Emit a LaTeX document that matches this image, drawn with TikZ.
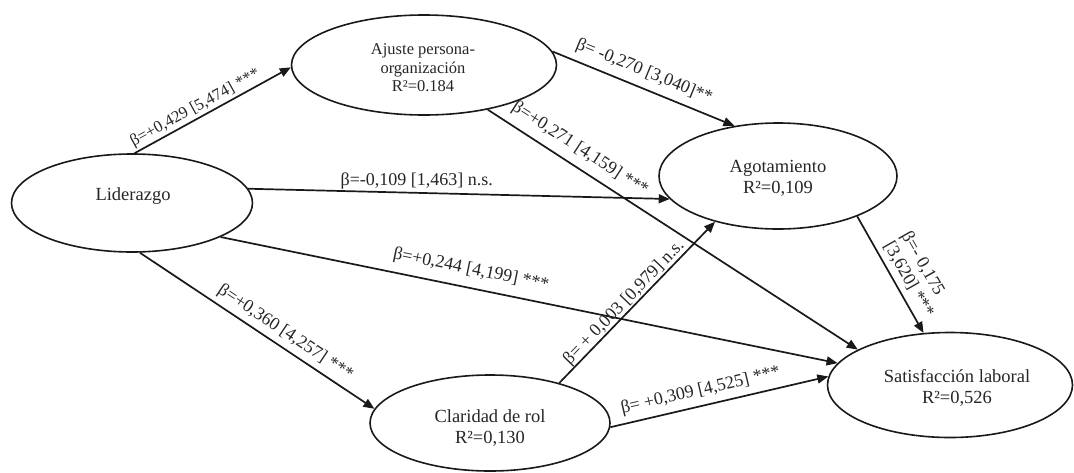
\documentclass[tikz,border=0pt]{standalone}
\usepackage{fontspec}
\setmainfont{Liberation Serif}
\usetikzlibrary{arrows.meta,shapes.geometric}
\begin{document}
\begin{tikzpicture}[x=1pt,y=-1pt,
  lv/.style={draw=black!90, line width=1.6pt, ellipse, inner sep=0pt},
  vt/.style={align=center, font=\fontsize{18.5}{21}\selectfont, text=black!85, inner sep=0pt},
  conn/.style={draw=black!90, line width=1.7pt, -{Triangle[length=11pt,width=9pt]}},
  labbase/.style={font=\fontsize{18}{20}\selectfont, text=black!85, inner sep=1pt},
  lab/.style={labbase, sloped}]
\useasboundingbox (0,0) rectangle (1074,472);
% latent variables
\node[lv, minimum width=241pt, minimum height=98pt] (lid) at (132,203) {};
\node[lv, minimum width=265pt, minimum height=100pt] (ajs) at (424,65) {};
\node[lv, minimum width=238pt, minimum height=106pt] (ago) at (778,176) {};
\node[lv, minimum width=240pt, minimum height=96pt] (cla) at (490,423) {};
\node[lv, minimum width=245pt, minimum height=105pt] (sat) at (950,385) {};
% texts
\node[vt] (lidT) at (133,196) {Liderazgo};
\node[vt, font=\fontsize{16.5}{18.5}\selectfont] (ajsT) at (423,68) {Ajuste persona-\\organización\\R²=0.184};
\node[vt] (agoT) at (778,178) {Agotamiento\\R²=0,109};
\node[vt] (claT) at (490,428) {Claridad de rol\\R²=0,130};
\node[vt] (satT) at (957,388) {Satisfacción laboral\\R²=0,526};
% paths
\draw[conn] (lid.87) -- node[lab, font=\fontsize{16.5}{18}\selectfont, above=1pt, pos=0.42] (l1) {β=+0,429 [5,474] ***} (ajs.181);
\draw[conn] (lid.7) -- node[labbase, above=2pt, pos=0.4] (l2) {β=-0,109 [1,463] n.s.} (ago.192);
\draw[conn] (ajs.6) -- node[lab, above=6pt, pos=0.47] (l3) {β= -0,270 [3,040]**} (ago.131);
\draw[conn] (ajs.-35) -- node[lab, above=7pt, pos=0.224] (l4) {β=+0,271 [4,159] ***} (sat.159);
\draw[conn] (lid.-21) -- node[lab, above=8pt, pos=0.40] (l5) {β=+0,244 [4,199] ***} (sat.169);
\draw[conn] (lid.-81) -- node[lab, above=4pt, pos=0.587] (l6) {β=+0,360 [4,257] ***} (cla.173);
\draw[conn] (cla.30) -- node[lab, above=-1pt, pos=0.458] (l7) {β= + 0,003 [0,979] n.s.} (ago.216);
\draw[conn] (cla.-2) -- node[lab, above=5pt, pos=0.43] (l8) {β= +0,309 [4,525] ***} (sat.176);
\draw[conn] (ago.-27) -- node[lab, above=4pt, pos=0.6, align=left] (l9) {β=- 0,175\\{[}3,620] ***} (sat.117);
\end{tikzpicture}
\end{document}
